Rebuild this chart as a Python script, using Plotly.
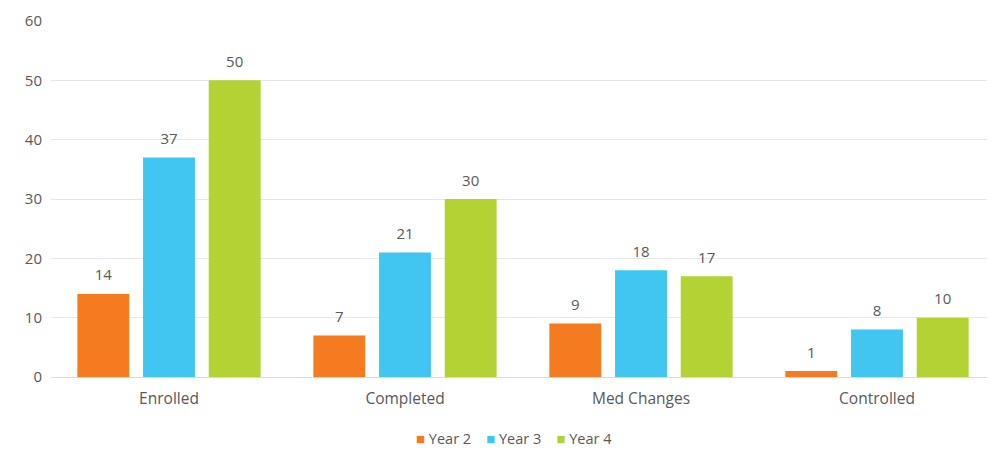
import plotly.graph_objects as go

categories = ["Enrolled", "Completed", "Med Changes", "Controlled"]
year2 = [14, 7, 9, 1]
year3 = [37, 21, 18, 8]
year4 = [50, 30, 17, 10]
series_names = ["Year 2", "Year 3", "Year 4"]
colors = ["#F47B20", "#41C6F2", "#B3D234"]
text_color = "#595959"

fig = go.Figure()
for i, (name, vals, c) in enumerate(zip(series_names, [year2, year3, year4], colors)):
    fig.add_trace(go.Bar(
        x=categories, y=vals, name=name, marker=dict(color=c, line=dict(width=0)),
        offsetgroup=str(i), showlegend=False,
    ))
for i, (name, vals) in enumerate(zip(series_names, [year2, year3, year4])):
    fig.add_trace(go.Scatter(
        x=categories, y=vals, mode="markers+text", text=[str(v) for v in vals],
        textposition="top center",
        marker=dict(size=14, color="rgba(0,0,0,0)", line=dict(width=0)),
        textfont=dict(size=15, color=text_color), offsetgroup=str(i),
        cliponaxis=False, showlegend=False, hoverinfo="skip",
    ))

legend_text = "    ".join(
    f"<span style='color:{c}; font-size:15px'>■</span> {n}" for n, c in zip(series_names, colors)
)
fig.add_annotation(
    text=legend_text, xref="paper", yref="paper", x=0.49, xanchor="center",
    y=-0.17, yanchor="middle", showarrow=False,
    font=dict(size=14.5, color=text_color, family="Open Sans"),
)

fig.update_layout(
    width=987, height=450,
    margin=dict(l=43, r=0, t=13, b=81),
    paper_bgcolor="white", plot_bgcolor="white",
    font=dict(family="Open Sans", size=15, color=text_color),
    barmode="group", bargap=0.165, bargroupgap=0.21,
    scattermode="group", scattergap=0.165,
    xaxis=dict(showgrid=False, showline=False, ticks="", tickfont=dict(size=15.5),
               ticklabelstandoff=10),
    yaxis=dict(range=[0, 60], dtick=10, showgrid=True, gridcolor="#E6E6E6", gridwidth=1,
               zeroline=True, zerolinecolor="#DADADA", zerolinewidth=1,
               showline=False, ticks="", tickfont=dict(size=15), ticklabelstandoff=8),
)

fig.write_html("out.html")
